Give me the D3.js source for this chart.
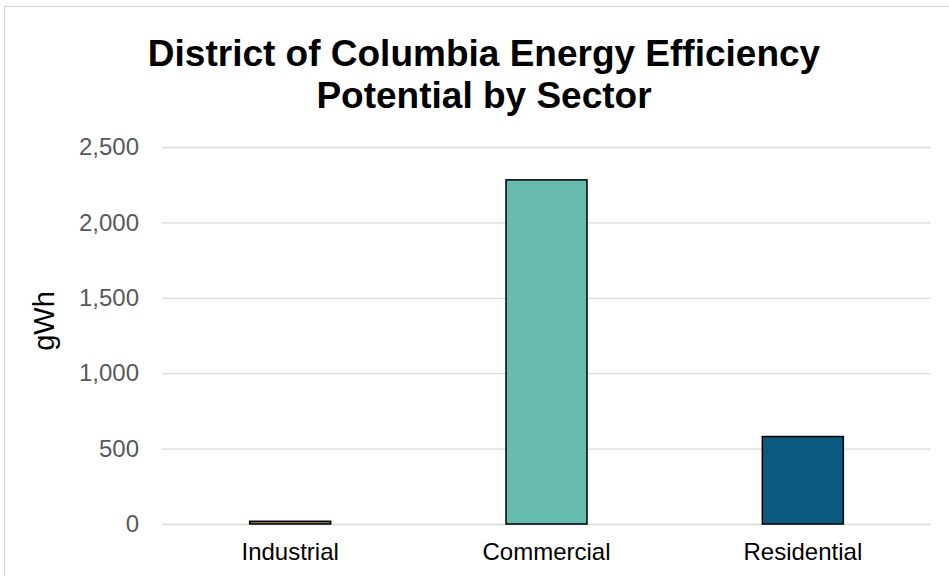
<!DOCTYPE html>
<html><head><meta charset="utf-8">
<script src="https://cdn.jsdelivr.net/npm/d3@7"></script>
<style>body{margin:0;background:#fff;} svg{display:block;font-family:"Liberation Sans",Arial,sans-serif;}</style>
</head><body>
<svg id="chart" width="949" height="576"></svg>
<script>
const categories = ["Industrial", "Commercial", "Residential"];
const values = [18, 2282, 580];
const colors = ["#8a7440", "#66bbae", "#0b5a80"];
const yTicks = [0, 500, 1000, 1500, 2000, 2500];
const titleLines = ["District of Columbia Energy Efficiency", "Potential by Sector"];
const yLabel = "gWh";

const svg = d3.select("#chart");
svg.append("rect").attr("x", 4.5).attr("y", 6.5).attr("width", 960).attr("height", 600)
  .attr("fill", "#fff").attr("stroke", "#d9d9d9").attr("stroke-width", 1.3);

const m = {left: 162, right: 931, top: 147, bottom: 524};
const x = d3.scaleBand().domain(categories).range([m.left, m.right]).paddingInner(0.684).paddingOuter(0.342);
const y = d3.scaleLinear().domain([0, 2500]).range([m.bottom, m.top]);

const yAxis = svg.append("g").attr("transform", `translate(${m.left},0)`)
  .call(d3.axisLeft(y).tickValues(yTicks).tickFormat(d3.format(",")).tickSize(-(m.right - m.left)).tickPadding(23));
yAxis.select(".domain").remove();
yAxis.selectAll(".tick line").attr("stroke", "#d9d9d9").attr("stroke-width", 1.3);
yAxis.selectAll(".tick text").attr("fill", "#595959").style("font-size", "24px");

svg.append("g").selectAll("rect").data(categories).join("rect")
  .attr("x", d => x(d)).attr("width", x.bandwidth())
  .attr("y", (d, i) => y(values[i])).attr("height", (d, i) => y(0) - y(values[i]))
  .attr("fill", (d, i) => colors[i]).attr("stroke", "#000").attr("stroke-width", 1.5);

const xAxis = svg.append("g").attr("transform", `translate(0,${m.bottom})`)
  .call(d3.axisBottom(x).tickSize(0).tickPadding(22));
xAxis.select(".domain").remove();
xAxis.selectAll(".tick text").attr("fill", "#000").style("font-size", "24px").attr("dy", "0.6em");

svg.append("text").attr("transform", `translate(54,321) rotate(-90)`).attr("text-anchor", "middle")
  .style("font-size", "29px").attr("fill", "#000").text(yLabel);

svg.append("g").selectAll("text").data(titleLines).join("text")
  .attr("x", 484).attr("y", (d, i) => 66 + i * 42).attr("text-anchor", "middle")
  .style("font-size", "37px").style("font-weight", "bold").attr("fill", "#000").text(d => d);
</script>
</body></html>
